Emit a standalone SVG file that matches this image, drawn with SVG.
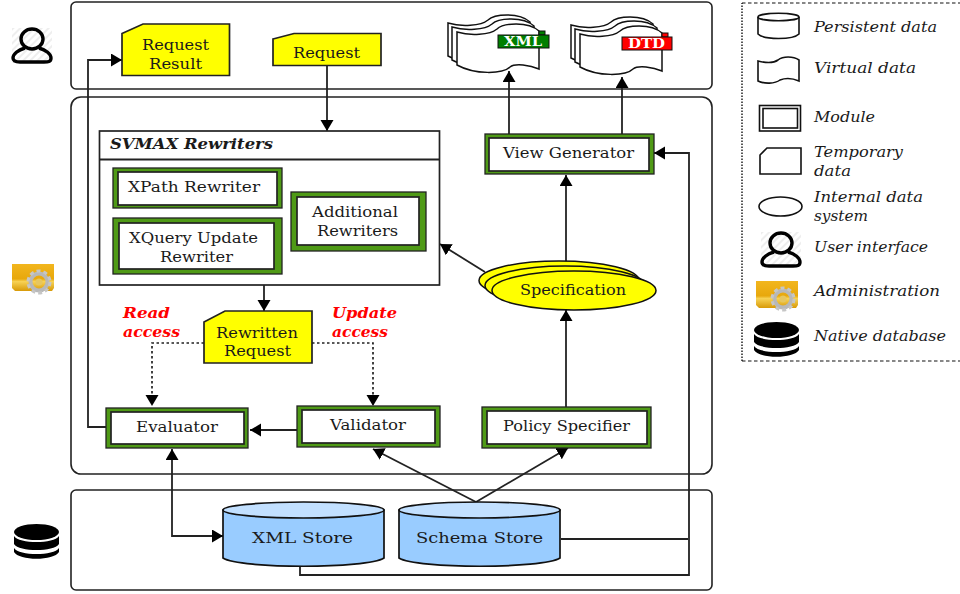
<svg xmlns="http://www.w3.org/2000/svg" xmlns:xlink="http://www.w3.org/1999/xlink" width="960" height="594" viewBox="0 0 960 594">
<style>
text{font-family:"DejaVu Serif","Liberation Serif",serif;font-size:14px;fill:#1a1a1a}
.it{font-style:italic;font-size:14px}
.itb{font-style:italic;font-weight:bold;font-size:14px}
.red{font-style:italic;font-weight:bold;fill:#ff0000;font-size:14px}
.tag{font-weight:bold;fill:#fff;font-size:13px}
.panel{fill:#fff;stroke:#222;stroke-width:1.6}
.note{fill:#ffff00;stroke:#222;stroke-width:1.7}
.outer{fill:#4f9a16;stroke:#222;stroke-width:1.3}
.inner{fill:#fff;stroke:#222;stroke-width:1.7}
.ln{fill:none;stroke:#222;stroke-width:1.8}
.dot{fill:none;stroke:#222;stroke-width:1.7;stroke-dasharray:2.5 2.5}
.doc{fill:#fff;stroke:#111;stroke-width:1.5}
.cyl{fill:#99ccff;stroke:#111;stroke-width:1.7}
.cyltop{fill:#c2e0ff;stroke:#111;stroke-width:1.7}
.spec{fill:#ffff00;stroke:#111;stroke-width:1.5}
.lg{fill:#fff;stroke:#111;stroke-width:1.6}
</style>
<defs>
<marker id="a" markerWidth="14" markerHeight="14" refX="11" refY="6.5" orient="auto-start-reverse" markerUnits="userSpaceOnUse"><path d="M0,0 L11,6.5 L0,13 Z" fill="#000"/></marker>
<linearGradient id="gold" x1="0" y1="0" x2="0" y2="1"><stop offset="0" stop-color="#f2b61e"/><stop offset="0.55" stop-color="#e8a80c"/><stop offset="0.65" stop-color="#f7d255"/><stop offset="1" stop-color="#d89a08"/></linearGradient>
<pattern id="hatch" width="5" height="5" patternUnits="userSpaceOnUse" patternTransform="rotate(45)"><rect width="2" height="5" fill="#eeeeee"/></pattern>
<path id="page" d="M0,0 C13,4 33,3 40,-3 C46,-9 71,-11 82,-1 L82,37 C73,33 58,31 53,35 C46,42 18,43 0,33 Z"/>
<g id="user">
<rect x="0" y="0" width="40" height="35" fill="url(#hatch)"/>
<ellipse cx="20" cy="11" rx="11" ry="10" fill="none" stroke="#000" stroke-width="3.4"/>
<path d="M13,20 C6,22 1,26 1,30 C1,34 5,34 8,34 L32,34 C36,34 39,34 39,30 C39,26 34,22 27,20" fill="none" stroke="#000" stroke-width="3.4"/>
</g>
<g id="admin">
<path d="M0,0 H42 V24 L40,27 H3 L0,24 Z" fill="url(#gold)"/>
<circle cx="27" cy="18" r="8.5" fill="none" stroke="#b8b8b8" stroke-width="4"/>
<circle cx="27" cy="18" r="11" fill="none" stroke="#c6c6c6" stroke-width="3" stroke-dasharray="4 3"/>
<circle cx="27" cy="18" r="3.5" fill="#e6c660"/>
</g>
<g id="db" fill="#000">
<ellipse cx="22.5" cy="8" rx="22.5" ry="8"/>
<path d="M0,12 C5,20 40,20 45,12 V20 C40,28 5,28 0,20 Z"/>
<path d="M0,24 C5,32 40,32 45,24 V28 C40,37 5,37 0,28 Z"/>
</g>
</defs>

<g id="panels">
<rect class="panel" x="71" y="2" width="641" height="87" rx="5"/>
<rect class="panel" x="71" y="97" width="641" height="377" rx="10"/>
<rect class="panel" x="71" y="490" width="641" height="100" rx="5"/>
</g>

<g id="icon-user"><use xlink:href="#user" href="#user" x="12" y="28"/></g>
<g id="icon-admin"><use xlink:href="#admin" href="#admin" x="12" y="264"/></g>
<g id="icon-db"><use xlink:href="#db" href="#db" x="14" y="524"/></g>

<g id="connectors">
<path class="ln" d="M106,427 H88 V60 H122" marker-end="url(#a)"/>
<path class="ln" d="M327,65 V131" marker-end="url(#a)"/>
<path class="ln" d="M264,285 V311" marker-end="url(#a)"/>
<path class="dot" d="M204,343 H152 V406" marker-end="url(#a)"/>
<path class="dot" d="M312,343 H373 V406" marker-end="url(#a)"/>
<path class="ln" d="M297,430 H250" marker-end="url(#a)"/>
<path class="ln" d="M172,449 V536 H223" marker-start="url(#a)" marker-end="url(#a)"/>
<path class="ln" d="M476,502 L373,449" marker-end="url(#a)"/>
<path class="ln" d="M476,502 L568,448" marker-end="url(#a)"/>
<path class="ln" d="M566,407 V310" marker-end="url(#a)"/>
<path class="ln" d="M566,262 V175" marker-end="url(#a)"/>
<path class="ln" d="M485,272 L440,244" marker-end="url(#a)"/>
<path class="ln" d="M509,134 V71" marker-end="url(#a)"/>
<path class="ln" d="M622,134 V77" marker-end="url(#a)"/>
<path class="ln" d="M300,566 V575 H689 V153 H654" marker-end="url(#a)"/>
<path class="ln" d="M561,539 H688"/>
</g>

<g id="request-result">
<path class="note" d="M122,33.5 L143,24 H229.5 V75.5 H122 Z"/>
<text x="142" y="50" textLength="67" lengthAdjust="spacingAndGlyphs">Request</text>
<text x="149" y="69" textLength="53" lengthAdjust="spacingAndGlyphs">Result</text>
</g>
<g id="request">
<path class="note" d="M273,39 L294,33.5 H381 V65.5 H273 Z"/>
<text x="293" y="58" textLength="67" lengthAdjust="spacingAndGlyphs">Request</text>
</g>

<g id="xml-doc">
<use xlink:href="#page" href="#page" class="doc" x="448" y="23"/>
<use xlink:href="#page" href="#page" class="doc" x="452" y="27"/>
<use xlink:href="#page" href="#page" class="doc" x="457" y="32"/>
<rect x="539" y="31" width="6" height="4" fill="#007f00" stroke="#111"/>
<rect x="498" y="35" width="51" height="13" fill="#007f00" stroke="#111"/>
<text class="tag" x="504" y="46" textLength="38" lengthAdjust="spacingAndGlyphs">XML</text>
</g>
<g id="dtd-doc">
<use xlink:href="#page" href="#page" class="doc" x="571" y="25"/>
<use xlink:href="#page" href="#page" class="doc" x="575" y="29"/>
<use xlink:href="#page" href="#page" class="doc" x="580" y="34"/>
<rect x="662" y="33" width="6" height="4" fill="#ff0000" stroke="#111"/>
<rect x="622" y="37" width="50" height="13" fill="#ff0000" stroke="#111"/>
<text class="tag" x="628" y="47.5" textLength="37" lengthAdjust="spacingAndGlyphs">DTD</text>
</g>

<g id="view-generator">
<rect class="outer" x="485" y="134" width="169" height="40"/>
<rect class="inner" x="489" y="138" width="160" height="33"/>
<text x="503" y="158" textLength="131" lengthAdjust="spacingAndGlyphs">View Generator</text>
</g>

<g id="svmax-rewriters">
<rect class="inner" x="99.5" y="131" width="340" height="154"/>
<path class="ln" d="M99.5,159.5 H439.5"/>
<text class="itb" x="110" y="149" textLength="163" lengthAdjust="spacingAndGlyphs">SVMAX Rewriters</text>
</g>
<g id="xpath-rewriter">
<rect class="outer" x="113" y="168" width="169" height="40"/>
<rect class="inner" x="118" y="172" width="159" height="33"/>
<text x="128" y="192" textLength="132" lengthAdjust="spacingAndGlyphs">XPath Rewriter</text>
</g>
<g id="xquery-rewriter">
<rect class="outer" x="113" y="218" width="169" height="56"/>
<rect class="inner" x="119" y="223" width="155" height="46"/>
<text x="129" y="243" textLength="129" lengthAdjust="spacingAndGlyphs">XQuery Update</text>
<text x="160" y="262" textLength="73" lengthAdjust="spacingAndGlyphs">Rewriter</text>
</g>
<g id="additional-rewriters">
<rect class="outer" x="291" y="192" width="135" height="59"/>
<rect class="inner" x="297" y="197" width="122" height="48"/>
<text x="312" y="217" textLength="86" lengthAdjust="spacingAndGlyphs">Additional</text>
<text x="317" y="236" textLength="81" lengthAdjust="spacingAndGlyphs">Rewriters</text>
</g>

<g id="specification">
<ellipse class="spec" cx="559" cy="280.5" rx="80" ry="19.5"/>
<ellipse class="spec" cx="565" cy="285.5" rx="80" ry="19.5"/>
<ellipse class="spec" cx="574" cy="290.5" rx="82" ry="19.5"/>
<text x="520" y="295" textLength="106" lengthAdjust="spacingAndGlyphs">Specification</text>
</g>

<g id="rewritten-request">
<path class="note" d="M204,322 L225,311 H312 V363 H204 Z"/>
<text x="216" y="338" textLength="82" lengthAdjust="spacingAndGlyphs">Rewritten</text>
<text x="224" y="356" textLength="67" lengthAdjust="spacingAndGlyphs">Request</text>
</g>

<g id="access-labels">
<text class="red" x="123" y="318" textLength="47" lengthAdjust="spacingAndGlyphs">Read</text>
<text class="red" x="123" y="337" textLength="57" lengthAdjust="spacingAndGlyphs">access</text>
<text class="red" x="332" y="318" textLength="65" lengthAdjust="spacingAndGlyphs">Update</text>
<text class="red" x="332" y="337" textLength="56" lengthAdjust="spacingAndGlyphs">access</text>
</g>

<g id="evaluator">
<rect class="outer" x="106" y="408" width="142" height="40"/>
<rect class="inner" x="111" y="412" width="133" height="32"/>
<text x="136" y="432" textLength="82" lengthAdjust="spacingAndGlyphs">Evaluator</text>
</g>
<g id="validator">
<rect class="outer" x="297" y="406" width="143" height="41"/>
<rect class="inner" x="302" y="410" width="133" height="33"/>
<text x="330" y="430" textLength="76" lengthAdjust="spacingAndGlyphs">Validator</text>
</g>
<g id="policy-specifier">
<rect class="outer" x="482" y="407" width="169" height="41"/>
<rect class="inner" x="487" y="411" width="160" height="33"/>
<text x="503" y="431" textLength="127" lengthAdjust="spacingAndGlyphs">Policy Specifier</text>
</g>

<g id="xml-store">
<path class="cyl" d="M223,510 V558 C240,569 367,569 384,558 V510 Z"/>
<ellipse class="cyltop" cx="303.5" cy="510" rx="80.5" ry="8"/>
<text x="252" y="543" textLength="101" lengthAdjust="spacingAndGlyphs">XML Store</text>
</g>
<g id="schema-store">
<path class="cyl" d="M399,510 V558 C416,569 543,569 560,558 V510 Z"/>
<ellipse class="cyltop" cx="479.5" cy="510" rx="80.5" ry="8"/>
<text x="416" y="543" textLength="127" lengthAdjust="spacingAndGlyphs">Schema Store</text>
</g>

<g id="legend">
<path d="M742,361 V3" fill="none" stroke="#111" stroke-width="1.4" stroke-dasharray="1.5 1.5"/>
<path d="M742,3 H960 M742,361 H960" fill="none" stroke="#111" stroke-width="1.2" stroke-dasharray="3.5 2.5"/>
<g id="lg-persistent">
<path class="lg" d="M758,17 V34 C764,40 793,40 799,34 V17"/>
<ellipse class="lg" cx="778.5" cy="17" rx="20.5" ry="3.7"/>
<text class="it" x="814" y="32" textLength="123" lengthAdjust="spacingAndGlyphs">Persistent data</text>
</g>
<g id="lg-virtual">
<path class="lg" d="M758,61 C766,63 774,63 778,60 C783,56 793,56 799,60 V81 C792,78 785,78 780,80 C775,84 764,84 758,81 Z"/>
<text class="it" x="814" y="73" textLength="102" lengthAdjust="spacingAndGlyphs">Virtual data</text>
</g>
<g id="lg-module">
<rect class="lg" x="759.5" y="105.5" width="41" height="25.5"/>
<rect class="lg" x="763" y="108.5" width="34.5" height="19.5"/>
<text class="it" x="814" y="122" textLength="61" lengthAdjust="spacingAndGlyphs">Module</text>
</g>
<g id="lg-temporary">
<path class="lg" d="M760,155 L767,148 H801 V174 H760 Z"/>
<text class="it" x="814" y="157" textLength="89" lengthAdjust="spacingAndGlyphs">Temporary</text>
<text class="it" x="814" y="176" textLength="37" lengthAdjust="spacingAndGlyphs">data</text>
</g>
<g id="lg-internal">
<ellipse class="lg" cx="780.5" cy="206.5" rx="21.5" ry="9.5"/>
<text class="it" x="814" y="202" textLength="109" lengthAdjust="spacingAndGlyphs">Internal data</text>
<text class="it" x="814" y="221" textLength="54" lengthAdjust="spacingAndGlyphs">system</text>
</g>
<g id="lg-user">
<use xlink:href="#user" href="#user" x="761" y="232"/>
<text class="it" x="814" y="252" textLength="114" lengthAdjust="spacingAndGlyphs">User interface</text>
</g>
<g id="lg-admin">
<use xlink:href="#admin" href="#admin" x="756" y="281"/>
<text class="it" x="814" y="296" textLength="126" lengthAdjust="spacingAndGlyphs">Administration</text>
</g>
<g id="lg-db">
<use xlink:href="#db" href="#db" x="754" y="322"/>
<text class="it" x="814" y="341" textLength="132" lengthAdjust="spacingAndGlyphs">Native database</text>
</g>
</g>
</svg>
